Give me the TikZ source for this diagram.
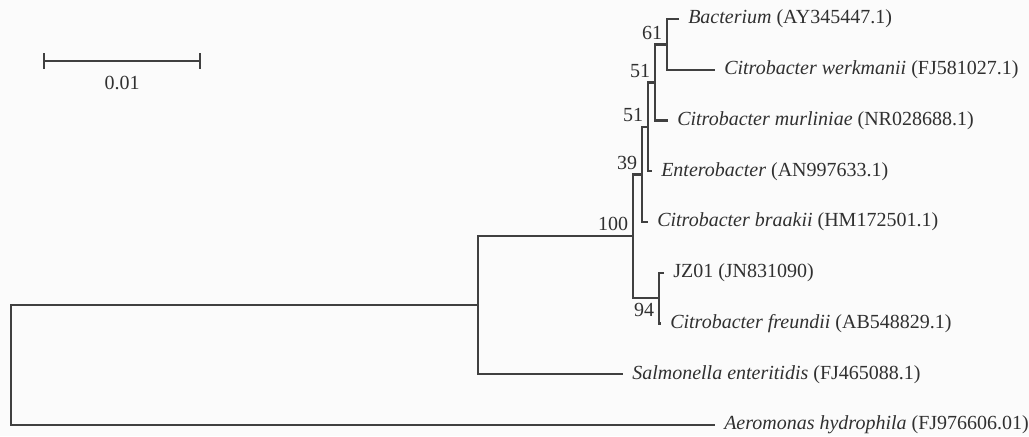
\documentclass[tikz,border=0pt]{standalone}
\usepackage{fontspec}
\setmainfont{Liberation Serif}
\usepackage{xcolor}
\usepackage{tikz}
\definecolor{treeline}{RGB}{64,64,64}
\definecolor{treetext}{RGB}{48,48,48}
\definecolor{paper}{RGB}{251,251,251}

\begin{document}
\begin{tikzpicture}[x=0.75pt, y=-0.75pt,
		every node/.style={font=\fontsize{15}{18}\selectfont, text=treetext},
		branch/.style={draw=treeline, line width=1.8pt},
		taxon/.style={anchor=west, inner xsep=6.75pt, inner ysep=0pt},
		boot/.style={inner sep=3.5pt}]
		\fill[paper] (0, 0) rectangle (1029, 436);
		\useasboundingbox (0, 0) rectangle (1029, 436);
		\coordinate (n1) at (667, 44.5);
		\coordinate (n2) at (655, 82.5);
		\coordinate (n3) at (648, 127);
		\coordinate (n4) at (642, 174.5);
		\coordinate (n5) at (659, 298);
		\coordinate (n6) at (633, 236);
		\coordinate (n7) at (478, 305);
		\coordinate (r) at (11, 365);
		\coordinate (t1) at (679, 19);
		\coordinate (t2) at (715, 69.75);
		\coordinate (t3) at (668, 120.5);
		\coordinate (t4) at (652, 171.25);
		\coordinate (t5) at (648, 222);
		\coordinate (t6) at (664, 272.75);
		\coordinate (t7) at (661, 323.5);
		\coordinate (t8) at (623, 374.25);
		\coordinate (t9) at (715, 425);
		\draw[branch] (t1) -| (n1) |- (t2);
		\draw[branch] (n1) -| (n2) |- (t3);
		\draw[branch] (n2) -| (n3) |- (t4);
		\draw[branch] (n3) -| (n4) |- (t5);
		\draw[branch] (t6) -| (n5) |- (t7);
		\draw[branch] (n4) -| (n6) |- (n5);
		\draw[branch] (n6) -| (n7) |- (t8);
		\draw[branch] (n7) -| (r) |- (t9);
		\node[taxon] (l1) at (t1) {\textit{Bacterium} (AY345447.1)};
		\node[taxon] (l2) at (t2) {\textit{Citrobacter werkmanii} (FJ581027.1)};
		\node[taxon] (l3) at (t3) {\textit{Citrobacter murliniae} (NR028688.1)};
		\node[taxon] (l4) at (t4) {\textit{Enterobacter} (AN997633.1)};
		\node[taxon] (l5) at (t5) {\textit{Citrobacter braakii} (HM172501.1)};
		\node[taxon] (l6) at (t6) {JZ01 (JN831090)};
		\node[taxon] (l7) at (t7) {\textit{Citrobacter freundii} (AB548829.1)};
		\node[taxon] (l8) at (t8) {\textit{Salmonella enteritidis} (FJ465088.1)};
		\node[taxon] (l9) at (t9) {\textit{Aeromonas hydrophila} (FJ976606.01)};
		\node[boot, anchor=south east] (b1) at (n1) {61};
		\node[boot, anchor=south east] (b2) at (n2) {51};
		\node[boot, anchor=south east] (b3) at (n3) {51};
		\node[boot, anchor=south east] (b4) at (n4) {39};
		\node[boot, anchor=south east] (b6) at (n6) {100};
		\node[boot, anchor=north east] (b5) at (n5) {94};
		\coordinate (s1) at (44, 61);
		\coordinate (s2) at (200, 61);
		\draw[branch] (s1) -- (s2);
		\draw[branch] ([yshift=6pt]s1) -- ([yshift=-6pt]s1);
		\draw[branch] ([yshift=6pt]s2) -- ([yshift=-6pt]s2);
		\node (sl) at (122, 83) {0.01};
	\end{tikzpicture}
\end{document}
